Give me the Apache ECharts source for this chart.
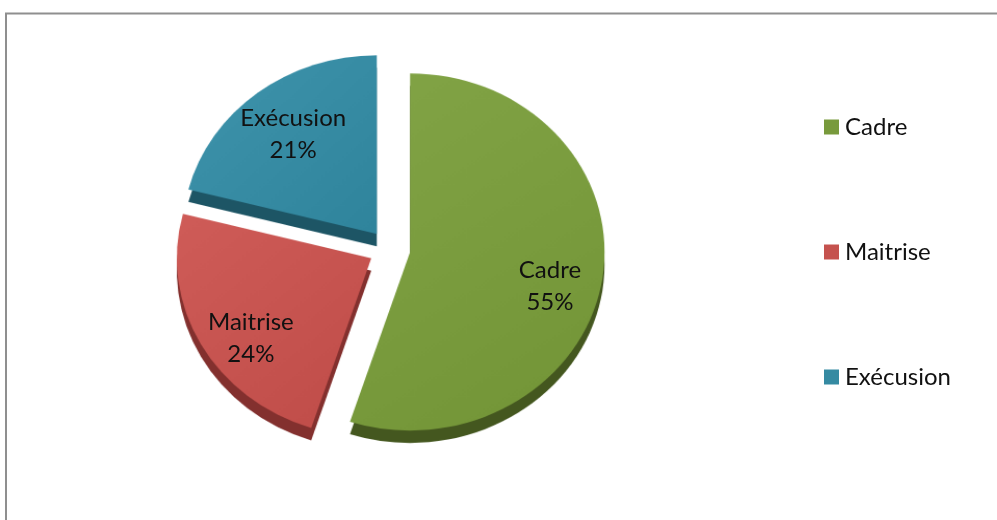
<!DOCTYPE html>
<html>
<head>
<meta charset="utf-8">
<script src="https://cdn.jsdelivr.net/npm/echarts@6/dist/echarts.min.js"></script>
<style>
  html, body { margin: 0; padding: 0; background: #ffffff; }
  #wrap { position: relative; width: 997px; height: 520px; overflow: hidden; background: #ffffff; }
  #pie, #overlay { position: absolute; left: 0; top: 0; width: 997px; height: 520px; }
  /* slight tilt: the disc is seen a little from above */
  #pie { transform-origin: 389.5px 247px; transform: scale(1.04, 0.955); }
</style>
</head>
<body>
<div id="wrap">
  <div id="pie"></div>
  <div id="overlay"></div>
</div>
<script>
// Répartition du personnel par catégorie
const categories = ['Cadre', 'Maitrise', 'Exécusion'];
const values = [55, 24, 21];
const faceColors = ['#789a3c', '#c5524e', '#358aa2'];
const sideColors = ['#44571f', '#83302e', '#1d5565'];

const CENTER_X = 389.5;
const CENTER_Y = 249;
const RADIUS = 187;
const DEPTH = 13;
const EXPLODE = 20;
const FONT = 'Lato, "Open Sans", sans-serif';

function shade(hex, amt) {
  const n = parseInt(hex.slice(1), 16);
  const ch = [(n >> 16) & 255, (n >> 8) & 255, n & 255].map(c =>
    Math.max(0, Math.min(255, Math.round(c + amt))));
  return 'rgb(' + ch.join(',') + ')';
}

function items(colorFn) {
  return categories.map((name, i) => ({
    name: name,
    value: values[i],
    selected: true,
    itemStyle: { color: colorFn(i) }
  }));
}

const common = {
  type: 'pie',
  startAngle: 90,
  clockwise: true,
  selectedMode: 'multiple',
  selectedOffset: EXPLODE,
  silent: true,
  animation: false,
  emphasis: { disabled: true },
  labelLine: { show: false },
  label: { show: false }
};

// Disc: dark side walls underneath, lit top faces above
const pieChart = echarts.init(document.getElementById('pie'), null, { renderer: 'canvas' });
pieChart.setOption({
  animation: false,
  series: [
    Object.assign({}, common, {
      center: [CENTER_X, CENTER_Y + DEPTH],
      radius: [0, RADIUS],
      z: 1,
      data: items(i => sideColors[i])
    }),
    Object.assign({}, common, {
      center: [CENTER_X, CENTER_Y],
      radius: [0, RADIUS],
      z: 2,
      data: items(i => ({
        type: 'linear', x: 0, y: 0, x2: 1, y2: 1,
        colorStops: [
          { offset: 0, color: shade(faceColors[i], 10) },
          { offset: 1, color: shade(faceColors[i], -6) }
        ]
      }))
    })
  ]
});

// Frame, legend and slice labels
const overlay = echarts.init(document.getElementById('overlay'), null, { renderer: 'canvas' });
overlay.setOption({
  backgroundColor: 'transparent',
  animation: false,
  legend: {
    orient: 'vertical',
    left: 819,
    top: 109.5,
    itemWidth: 15,
    itemHeight: 15,
    itemGap: 100,
    icon: 'rect',
    selectedMode: false,
    data: categories.map((name, i) => ({ name: name, itemStyle: { color: faceColors[i] } })),
    textStyle: {
      fontFamily: FONT,
      fontSize: 24,
      lineHeight: 25,
      color: '#111111',
      padding: [0, 0, 0, 1]
    }
  },
  graphic: [{
    type: 'rect',
    shape: { x: 6, y: 13.5, width: 1100, height: 700 },
    style: { fill: 'none', stroke: '#8f8f8f', lineWidth: 2 },
    silent: true,
    z: -10
  }],
  series: [
    Object.assign({}, common, {
      center: [CENTER_X + 2, CENTER_Y + 12],
      radius: [RADIUS * 0.47, RADIUS],
      itemStyle: { color: 'rgba(0,0,0,0)' },
      label: {
        show: true,
        position: 'inside',
        formatter: p => p.name + '\n' + Math.round(p.percent) + '%',
        fontFamily: FONT,
        fontSize: 24,
        lineHeight: 32,
        color: '#111111'
      },
      data: categories.map((name, i) => ({ name: name, value: values[i], selected: true }))
    })
  ]
});
</script>
</body>
</html>
